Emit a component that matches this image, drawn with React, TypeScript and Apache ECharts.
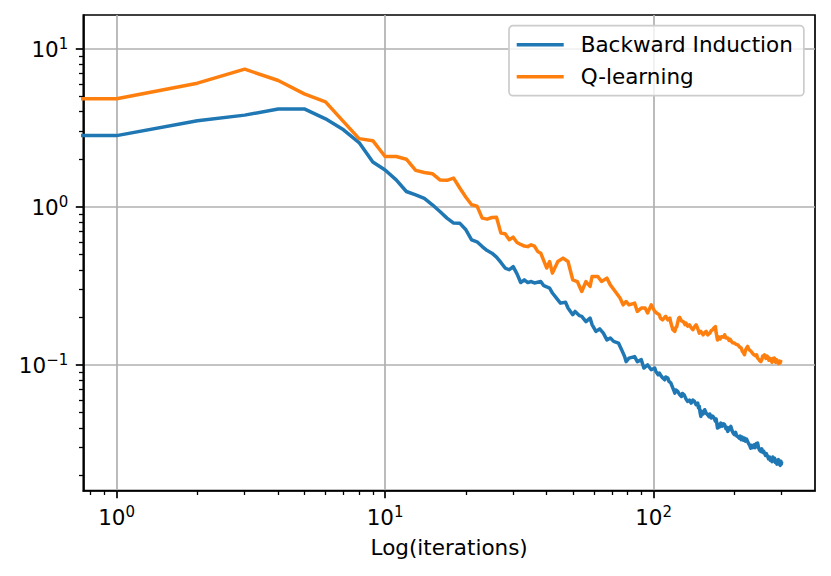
import React, { useEffect, useRef } from "react";
import * as echarts from "echarts";

// ---- data ----
// iteration 0 sits off the left of the log axis (clipped), carrying the first value flat to the edge
const biIter = [0.01, 1, 2, 3, 4, 5, 6, 7, 8, 9, 10, 11, 12, 13, 14, 15, 16, 17, 18, 19, 20, 21, 22, 23, 24, 25, 26, 27, 28, 29, 30, 31, 32, 33, 34, 35, 36, 38, 39, 41, 42, 44, 45, 47, 48, 50, 51, 53, 54, 56, 58, 59, 61, 63, 65, 67, 69, 71, 74, 76, 78, 79, 81, 85, 87, 90, 92, 95, 98, 101, 102, 104, 105, 107, 108, 110, 111, 113, 114, 116, 117, 118, 119, 120, 121, 123, 125, 127, 128, 130, 132, 134, 136, 138, 140, 142, 144, 146, 147, 148, 149, 150, 151, 153, 155, 157, 159, 161, 162, 164, 166, 168, 170, 171, 173, 175, 176, 178, 180, 182, 184, 186, 187, 189, 191, 192, 194, 196, 198, 200, 202, 204, 206, 208, 210, 212, 214, 216, 218, 220, 222, 224, 226, 228, 230, 232, 234, 237, 239, 241, 244, 246, 248, 251, 253, 255, 257, 259, 261, 263, 266, 268, 270, 272, 274, 276, 278, 280, 282, 284, 286, 288, 290, 292, 294, 296, 298, 299, 300];
const biLoss = [2.82, 2.82, 3.5, 3.8, 4.16, 4.16, 3.6, 3.07, 2.55, 1.92, 1.71, 1.48, 1.25, 1.19, 1.13, 1.03, 0.934, 0.848, 0.789, 0.786, 0.716, 0.619, 0.601, 0.561, 0.529, 0.509, 0.481, 0.445, 0.41, 0.4, 0.419, 0.377, 0.332, 0.345, 0.332, 0.337, 0.33, 0.337, 0.317, 0.306, 0.285, 0.258, 0.246, 0.249, 0.229, 0.208, 0.218, 0.205, 0.203, 0.188, 0.198, 0.18, 0.163, 0.169, 0.159, 0.144, 0.148, 0.141, 0.1375, 0.125, 0.113, 0.105, 0.1105, 0.113, 0.105, 0.108, 0.0956, 0.1, 0.0933, 0.0956, 0.091, 0.0867, 0.089, 0.0846, 0.083, 0.0806, 0.084, 0.0827, 0.079, 0.0768, 0.074, 0.0714, 0.069, 0.0664, 0.0695, 0.068, 0.065, 0.0632, 0.066, 0.0647, 0.061, 0.0588, 0.06, 0.0574, 0.06, 0.0588, 0.056, 0.0574, 0.0535, 0.0547, 0.05, 0.0473, 0.051, 0.049, 0.0521, 0.0495, 0.0484, 0.047, 0.049, 0.0462, 0.0475, 0.0462, 0.044, 0.0455, 0.0399, 0.042, 0.0405, 0.0429, 0.041, 0.0425, 0.0419, 0.0395, 0.0405, 0.038, 0.04, 0.039, 0.0409, 0.0385, 0.037, 0.0362, 0.0375, 0.0355, 0.0353, 0.0345, 0.0355, 0.0337, 0.035, 0.0335, 0.0345, 0.033, 0.034, 0.0328, 0.0318, 0.031, 0.0298, 0.031, 0.03, 0.0313, 0.03, 0.0318, 0.0321, 0.03, 0.029, 0.0284, 0.0295, 0.028, 0.0285, 0.0277, 0.0268, 0.0275, 0.0264, 0.0255, 0.0262, 0.025, 0.0252, 0.0245, 0.0262, 0.025, 0.0258, 0.0242, 0.025, 0.0236, 0.024, 0.0252, 0.0238, 0.0232, 0.0246, 0.0236, 0.0245];

const qlIter = [0.01, 1, 2, 3, 4, 5, 6, 7, 8, 9, 10, 11, 12, 13, 14, 15, 16, 17, 18, 19, 20, 21, 22, 23, 24, 25, 26, 27, 28, 29, 30, 31, 32, 33, 34, 35, 36, 37, 38, 40, 41, 42, 44, 46, 48, 50, 52, 54, 56, 58, 59, 62, 64, 67, 69, 72, 75, 77, 79, 81, 85, 87, 90, 93, 95, 98, 100, 101, 103, 105, 106, 108, 110, 111, 113, 115, 116, 118, 120, 121, 122, 124, 125, 127, 129, 131, 132, 134, 136, 138, 140, 142, 144, 146, 148, 150, 153, 155, 157, 159, 162, 164, 166, 168, 170, 171, 173, 175, 177, 179, 182, 184, 186, 189, 191, 193, 195, 197, 200, 203, 206, 209, 212, 214, 216, 218, 220, 222, 224, 226, 228, 231, 234, 237, 240, 242, 244, 247, 249, 251, 253, 255, 257, 259, 262, 264, 266, 269, 271, 274, 276, 278, 280, 282, 285, 287, 290, 292, 294, 296, 298, 300];
const qlLoss = [4.82, 4.82, 6.05, 7.42, 6.29, 5.18, 4.61, 3.46, 2.7, 2.62, 2.08, 2.08, 2.0, 1.7, 1.65, 1.62, 1.48, 1.47, 1.52, 1.31, 1.15, 1.03, 1.01, 0.848, 0.836, 0.856, 0.86, 0.682, 0.675, 0.619, 0.643, 0.595, 0.578, 0.565, 0.56, 0.575, 0.565, 0.522, 0.509, 0.41, 0.451, 0.381, 0.451, 0.474, 0.451, 0.3455, 0.337, 0.2915, 0.337, 0.3135, 0.3626, 0.3626, 0.337, 0.354, 0.321, 0.2915, 0.265, 0.24, 0.252, 0.24, 0.246, 0.218, 0.229, 0.229, 0.213, 0.24, 0.225, 0.218, 0.212, 0.208, 0.198, 0.193, 0.2, 0.203, 0.193, 0.198, 0.184, 0.167, 0.163, 0.172, 0.175, 0.198, 0.2, 0.19, 0.188, 0.18, 0.184, 0.176, 0.1795, 0.172, 0.167, 0.174, 0.1795, 0.17, 0.159, 0.163, 0.155, 0.16, 0.163, 0.155, 0.159, 0.165, 0.167, 0.172, 0.175, 0.16, 0.144, 0.15, 0.146, 0.151, 0.15, 0.155, 0.148, 0.148, 0.143, 0.145, 0.1408, 0.138, 0.1375, 0.135, 0.134, 0.13, 0.128, 0.122, 0.12, 0.116, 0.124, 0.128, 0.131, 0.126, 0.124, 0.1217, 0.118, 0.116, 0.114, 0.116, 0.1105, 0.108, 0.106, 0.105, 0.108, 0.114, 0.112, 0.116, 0.11, 0.114, 0.113, 0.107, 0.11, 0.108, 0.104, 0.11, 0.106, 0.1105, 0.104, 0.108, 0.105, 0.102, 0.106, 0.103, 0.105, 0.104];

const seriesNames = ["Backward Induction", "Q-learning"];
const xMajorTicks = [1, 10, 100];
const xMinorTicks = [0.8, 0.9, 2, 3, 4, 5, 6, 7, 8, 9, 20, 30, 40, 50, 60, 70, 80, 90, 200, 300];
const yMajorTicks = [0.1, 1, 10];
const yMinorTicks = [0.02, 0.03, 0.04, 0.05, 0.06, 0.07, 0.08, 0.09, 0.2, 0.3, 0.4, 0.5, 0.6, 0.7, 0.8, 0.9, 2, 3, 4, 5, 6, 7, 8, 9];
const xRange = [0.7516, 399.2];
const yRange = [0.01603, 16.33];
const xName = "Log(iterations)";

const FONT = "DejaVu Sans";
const FS = 21.5;

function powLabel(v: number): string {
  const l = Math.log10(v);
  const e = Math.round(l);
  if (Math.abs(l - e) > 1e-6) return "";
  const ex = e < 0 ? "\u2212" + -e : String(e);
  return "{b|10}{s|" + ex + "}";
}

const richLabel = {
  b: { fontSize: FS, fontFamily: FONT, color: "#000", verticalAlign: "bottom", lineHeight: 24 },
  s: { fontSize: 15, fontFamily: FONT, color: "#000", verticalAlign: "bottom", lineHeight: 16, padding: [0, 0, 9, 0] },
};

export default function App() {
  const ref = useRef<HTMLDivElement>(null);
  useEffect(() => {
    if (!ref.current) return;
    const chart = echarts.init(ref.current, undefined, { renderer: "svg" });
    const zip = (xs: number[], ys: number[]) => xs.map((x, i) => [x, ys[i]]);
    const majorAxisCommon = {
      axisLine: { show: true, lineStyle: { color: "#000", width: 1.7 } },
      splitLine: { show: true, lineStyle: { color: "#b0b0b0", width: 1.7 } },
      minorTick: { show: false },
      minorSplitLine: { show: false },
    };
    const minorAxisCommon = {
      axisLine: { show: false },
      axisLabel: { show: false },
      splitLine: { show: false },
    };
    chart.setOption({
      animation: false,
      backgroundColor: "#fff",
      grid: {
        left: 83.3,
        right: 16,
        top: 15,
        bottom: 85.3,
        show: true,
        borderColor: "#000",
        borderWidth: 1.7,
        backgroundColor: "transparent",
        containLabel: false,
        outerBoundsMode: "none",
      },
      legend: {
        data: seriesNames,
        orient: "vertical",
        left: 509,
        top: 25.7,
        padding: [7, 11, 7, 7.7],
        icon: "rect",
        itemWidth: 47,
        itemHeight: 3.4,
        itemGap: 8,
        backgroundColor: "rgba(255,255,255,0.8)",
        borderColor: "#cccccc",
        borderWidth: 1.7,
        borderRadius: 4,
        textStyle: { fontFamily: FONT, fontSize: FS, color: "#000", lineHeight: 24, padding: [0, 0, 0, 12] },
      },
      xAxis: [
        {
          type: "log",
          logBase: 10,
          min: xRange[0],
          max: xRange[1],
          position: "bottom",
          name: xName,
          nameLocation: "middle",
          nameGap: 46,
          nameTextStyle: { fontFamily: FONT, fontSize: FS, color: "#000" },
          axisTick: { show: true, inside: false, length: 7.5, customValues: xMajorTicks, lineStyle: { color: "#000", width: 1.7 } },
          axisLabel: { show: true, margin: 14, customValues: xMajorTicks, formatter: powLabel, rich: richLabel, hideOverlap: false },
          ...majorAxisCommon,
        },
        {
          type: "log",
          logBase: 10,
          min: xRange[0],
          max: xRange[1],
          position: "bottom",
          axisTick: { show: true, inside: false, length: 4.3, customValues: xMinorTicks, lineStyle: { color: "#000", width: 1.3 } },
          ...minorAxisCommon,
        },
      ],
      yAxis: [
        {
          type: "log",
          logBase: 10,
          min: yRange[0],
          max: yRange[1],
          position: "left",
          axisTick: { show: true, inside: false, length: 7.5, customValues: yMajorTicks, lineStyle: { color: "#000", width: 1.7 } },
          axisLabel: { show: true, margin: 15, customValues: yMajorTicks, formatter: powLabel, rich: richLabel, hideOverlap: false },
          ...majorAxisCommon,
        },
        {
          type: "log",
          logBase: 10,
          min: yRange[0],
          max: yRange[1],
          position: "left",
          axisTick: { show: true, inside: false, length: 4.3, customValues: yMinorTicks, lineStyle: { color: "#000", width: 1.3 } },
          ...minorAxisCommon,
        },
      ],
      series: [
        {
          name: seriesNames[0],
          type: "line",
          xAxisIndex: 0,
          yAxisIndex: 0,
          data: zip(biIter, biLoss),
          symbol: "none",
          showSymbol: false,
          clip: true,
          lineStyle: { color: "#1f77b4", width: 3.5, join: "round" },
          itemStyle: { color: "#1f77b4" },
          z: 3,
        },
        {
          name: seriesNames[1],
          type: "line",
          xAxisIndex: 0,
          yAxisIndex: 0,
          data: zip(qlIter, qlLoss),
          symbol: "none",
          showSymbol: false,
          clip: true,
          lineStyle: { color: "#ff7f0e", width: 3.5, join: "round" },
          itemStyle: { color: "#ff7f0e" },
          z: 4,
        },
      ],
    });
    return () => chart.dispose();
  }, []);
  return <div ref={ref} style={{ position: "fixed", left: 0, top: 0, width: 831, height: 576 }} />;
}
